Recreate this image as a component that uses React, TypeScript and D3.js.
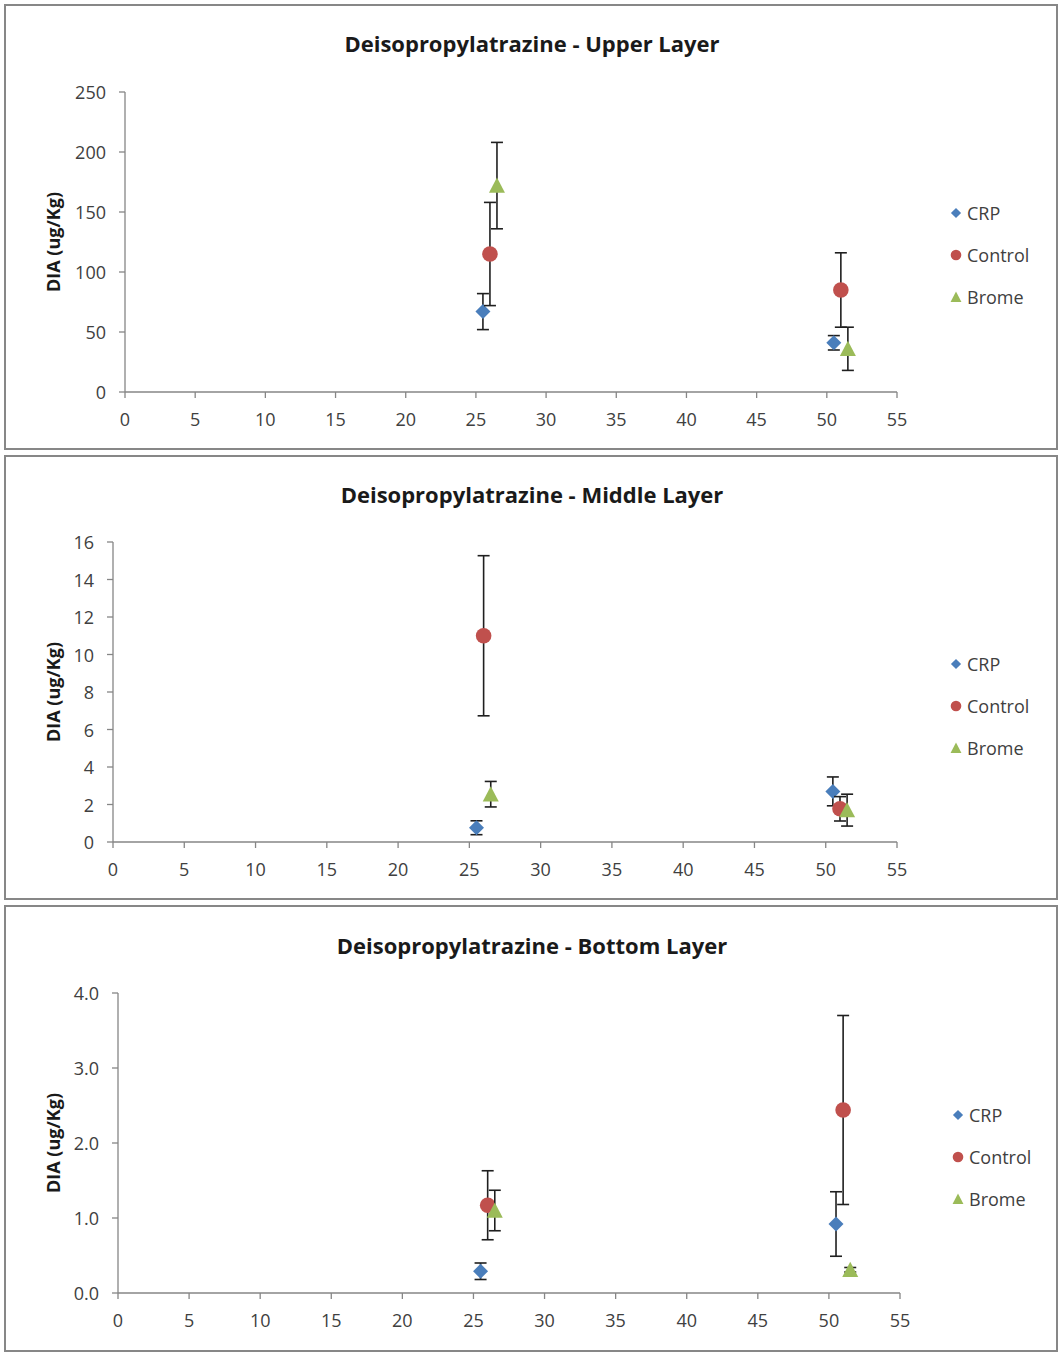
import React from "react";
import * as d3 from "d3";

// Sampling positions (days) for each treatment, slightly offset so points don't overlap
const crpX = [25.5, 50.5];
const controlX = [26, 51];
const bromeX = [26.5, 51.5];

const xTicks = [0, 5, 10, 15, 20, 25, 30, 35, 40, 45, 50, 55];

// Upper layer (ug/Kg): means and standard errors
const upperCRP = [67, 41];
const upperCRPErr = [15, 6];
const upperControl = [115, 85];
const upperControlErr = [43, 31];
const upperBrome = [172, 36];
const upperBromeErr = [36, 18];

// Middle layer
const middleCRP = [0.76, 2.7];
const middleCRPErr = [0.37, 0.77];
const middleControl = [11, 1.77];
const middleControlErr = [4.27, 0.65];
const middleBrome = [2.55, 1.7];
const middleBromeErr = [0.68, 0.85];

// Bottom layer
const bottomCRP = [0.29, 0.92];
const bottomCRPErr = [0.11, 0.43];
const bottomControl = [1.17, 2.44];
const bottomControlErr = [0.46, 1.26];
const bottomBrome = [1.1, 0.31];
const bottomBromeErr = [0.27, 0.03];

const upperTicks = [0, 50, 100, 150, 200, 250];
const middleTicks = [0, 2, 4, 6, 8, 10, 12, 14, 16];
const bottomTicks = [0, 1, 2, 3, 4];

const seriesNames = ["CRP", "Control", "Brome"];
const seriesColors = ["#4A7EBB", "#C0504D", "#9BBB59"];

const FONT = "'Open Sans', 'Noto Sans', sans-serif";
const AXIS = "#868686";
const TEXT = "#404040";

type Series = { name: string; color: string; xs: number[]; ys: number[]; errs: number[] };

type Panel = {
  title: string;
  frameTop: number;
  frameBottom: number;
  left: number;
  right: number;
  top: number;
  bottom: number;
  yMax: number;
  yTicks: number[];
  yFmt: (v: number) => string;
  titleY: number;
  legendX: number;
  legendY: number;
  series: Series[];
};

function makeSeries(ys: number[][], errs: number[][]): Series[] {
  const xs = [crpX, controlX, bromeX];
  return seriesNames.map((name, i) => ({ name, color: seriesColors[i], xs: xs[i], ys: ys[i], errs: errs[i] }));
}

const panels: Panel[] = [
  {
    title: "Deisopropylatrazine - Upper Layer",
    frameTop: 5, frameBottom: 449,
    left: 125, right: 897, top: 92, bottom: 392,
    yMax: 250, yTicks: upperTicks, yFmt: (v) => String(v),
    titleY: 43, legendX: 956, legendY: 213,
    series: makeSeries([upperCRP, upperControl, upperBrome], [upperCRPErr, upperControlErr, upperBromeErr]),
  },
  {
    title: "Deisopropylatrazine - Middle Layer",
    frameTop: 456, frameBottom: 899,
    left: 113, right: 897, top: 542, bottom: 842,
    yMax: 16, yTicks: middleTicks, yFmt: (v) => String(v),
    titleY: 494, legendX: 956, legendY: 664,
    series: makeSeries([middleCRP, middleControl, middleBrome], [middleCRPErr, middleControlErr, middleBromeErr]),
  },
  {
    title: "Deisopropylatrazine - Bottom Layer",
    frameTop: 906, frameBottom: 1351,
    left: 118, right: 900, top: 993, bottom: 1293,
    yMax: 4, yTicks: bottomTicks, yFmt: d3.format(".1f"),
    titleY: 945, legendX: 958, legendY: 1115,
    series: makeSeries([bottomCRP, bottomControl, bottomBrome], [bottomCRPErr, bottomControlErr, bottomBromeErr]),
  },
];

function Marker({ name, color, cx, cy, scale = 1 }: { name: string; color: string; cx: number; cy: number; scale?: number }) {
  if (name === "CRP") {
    const r = 7.5 * scale;
    return <path d={`M${cx},${cy - r}L${cx + r},${cy}L${cx},${cy + r}L${cx - r},${cy}Z`} fill={color} />;
  }
  if (name === "Control") {
    return <circle cx={cx} cy={cy} r={7.8 * scale} fill={color} />;
  }
  const h = 8 * scale;
  return <path d={`M${cx},${cy - h}L${cx + h},${cy + h * 0.9}L${cx - h},${cy + h * 0.9}Z`} fill={color} />;
}

function ChartPanel({ p }: { p: Panel }) {
  const x = d3.scaleLinear().domain([0, 55]).range([p.left, p.right]);
  const y = d3.scaleLinear().domain([0, p.yMax]).range([p.bottom, p.top]);
  const cap = 6;
  const midY = (p.top + p.bottom) / 2;
  return (
    <g>
      <rect x={5} y={p.frameTop} width={1052} height={p.frameBottom - p.frameTop} fill="#fff" stroke="#878787" strokeWidth={2} />
      <text x={532} y={p.titleY} textAnchor="middle" dominantBaseline="central" fontFamily={FONT} fontWeight="bold" fontSize={22} fill="#1a1a1a">
        {p.title}
      </text>
      <text transform={`translate(53,${midY}) rotate(-90)`} textAnchor="middle" dominantBaseline="central" fontFamily={FONT} fontWeight="bold" fontSize={18} fill="#1a1a1a">
        DIA (ug/Kg)
      </text>
      {/* y axis */}
      <line x1={p.left} x2={p.left} y1={p.top} y2={p.bottom} stroke={AXIS} strokeWidth={1.3} />
      {p.yTicks.map((t) => (
        <g key={`y${t}`}>
          <line x1={p.left - 6} x2={p.left} y1={y(t)} y2={y(t)} stroke={AXIS} strokeWidth={1.3} />
          <text x={p.left - 19} y={y(t)} textAnchor="end" dominantBaseline="central" fontFamily={FONT} fontSize={18} fill={TEXT}>
            {p.yFmt(t)}
          </text>
        </g>
      ))}
      {/* x axis */}
      <line x1={p.left} x2={p.right} y1={p.bottom} y2={p.bottom} stroke={AXIS} strokeWidth={1.3} />
      {xTicks.map((t) => (
        <g key={`x${t}`}>
          <line x1={x(t)} x2={x(t)} y1={p.bottom} y2={p.bottom + 6} stroke={AXIS} strokeWidth={1.3} />
          <text x={x(t)} y={p.bottom + 27} textAnchor="middle" dominantBaseline="central" fontFamily={FONT} fontSize={18} fill={TEXT}>
            {t}
          </text>
        </g>
      ))}
      {/* series: error bars then markers */}
      {p.series.map((s) => (
        <g key={s.name}>
          {s.xs.map((xv, i) => {
            const cx = x(xv);
            const hi = y(s.ys[i] + s.errs[i]);
            const lo = y(Math.max(0, s.ys[i] - s.errs[i]));
            return (
              <g key={i} stroke="#1f1f1f" strokeWidth={1.6}>
                <line x1={cx} x2={cx} y1={hi} y2={lo} />
                <line x1={cx - cap} x2={cx + cap} y1={hi} y2={hi} />
                <line x1={cx - cap} x2={cx + cap} y1={lo} y2={lo} />
              </g>
            );
          })}
          {s.xs.map((xv, i) => (
            <Marker key={`m${i}`} name={s.name} color={s.color} cx={x(xv)} cy={y(s.ys[i])} />
          ))}
        </g>
      ))}
      {/* legend */}
      {p.series.map((s, i) => {
        const ly = p.legendY + i * 42;
        return (
          <g key={`l${s.name}`}>
            <Marker name={s.name} color={s.color} cx={p.legendX} cy={ly} scale={0.68} />
            <text x={p.legendX + 11} y={ly} dominantBaseline="central" fontFamily={FONT} fontSize={18} fill={TEXT}>
              {s.name}
            </text>
          </g>
        );
      })}
    </g>
  );
}

export default function App() {
  return (
    <svg width={1061} height={1355} style={{ position: "absolute", left: 0, top: 0, background: "#fff" }}>
      <rect width={1061} height={1355} fill="#fff" />
      {panels.map((p) => (
        <ChartPanel key={p.title} p={p} />
      ))}
    </svg>
  );
}
